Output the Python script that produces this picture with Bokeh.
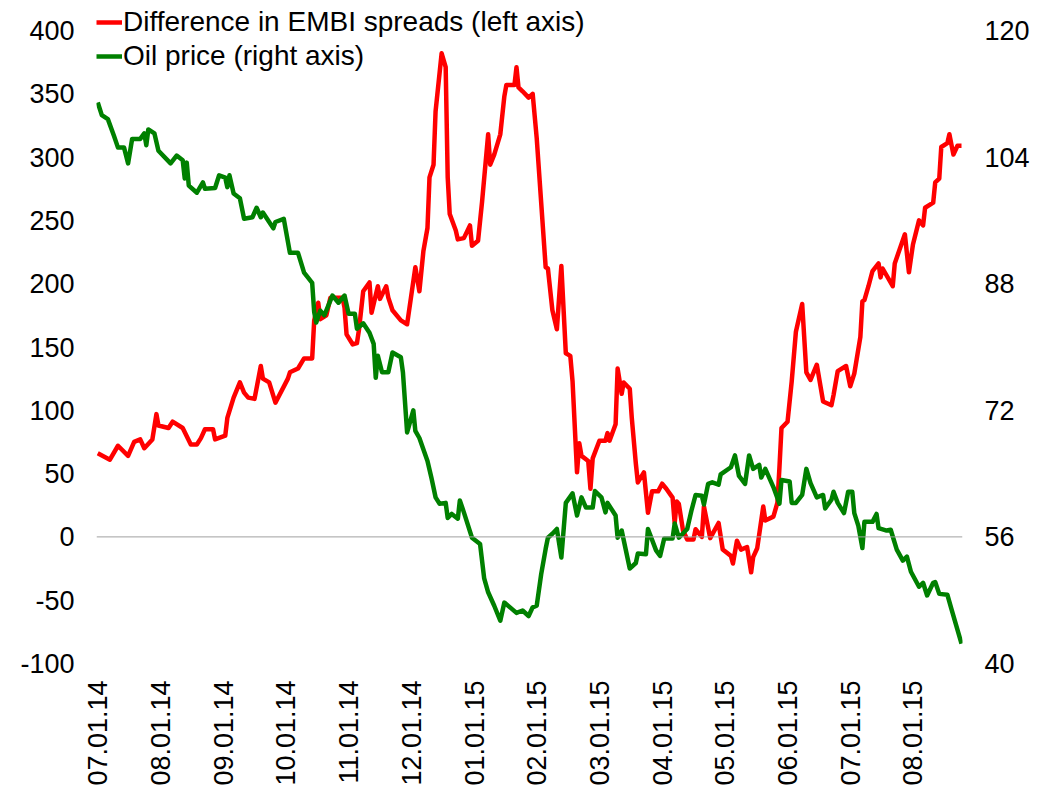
import calendar
from math import pi

from bokeh.plotting import figure
from bokeh.models import (Range1d, LinearAxis, FixedTicker, Span, Legend,
                          LegendItem, ColumnDataSource)
from bokeh.embed import file_html
from bokeh.resources import INLINE

# ---------------- data ----------------
tick_labels = ["07.01.14", "08.01.14", "09.01.14", "10.01.14", "11.01.14",
               "12.01.14", "01.01.15", "02.01.15", "03.01.15", "04.01.15",
               "05.01.15", "06.01.15", "07.01.15", "08.01.15"]

embi_dates = [
    "2014-07-01", "2014-07-07", "2014-07-11", "2014-07-16", "2014-07-19", "2014-07-22",
    "2014-07-24", "2014-07-28", "2014-07-30", "2014-07-31", "2014-08-05", "2014-08-07",
    "2014-08-12", "2014-08-16", "2014-08-19", "2014-08-21", "2014-08-23", "2014-08-27",
    "2014-08-28", "2014-09-02", "2014-09-03", "2014-09-06", "2014-09-09", "2014-09-11",
    "2014-09-13", "2014-09-16", "2014-09-19", "2014-09-20", "2014-09-23", "2014-09-26",
    "2014-10-02", "2014-10-03", "2014-10-07", "2014-10-10", "2014-10-14", "2014-10-15",
    "2014-10-17", "2014-10-18", "2014-10-21", "2014-10-23", "2014-10-29", "2014-10-30",
    "2014-10-31", "2014-11-03", "2014-11-05", "2014-11-06", "2014-11-08", "2014-11-11",
    "2014-11-12", "2014-11-15", "2014-11-16", "2014-11-19", "2014-11-20", "2014-11-22",
    "2014-11-26", "2014-11-29", "2014-12-03", "2014-12-05", "2014-12-07", "2014-12-09",
    "2014-12-10", "2014-12-12", "2014-12-13", "2014-12-16", "2014-12-18", "2014-12-19",
    "2014-12-20", "2014-12-23", "2014-12-24", "2014-12-27", "2014-12-30", "2014-12-31",
    "2015-01-03", "2015-01-05", "2015-01-08", "2015-01-09", "2015-01-11", "2015-01-14",
    "2015-01-16", "2015-01-17", "2015-01-21", "2015-01-22", "2015-01-23", "2015-01-25",
    "2015-01-28", "2015-01-30", "2015-02-01", "2015-02-05", "2015-02-06", "2015-02-08",
    "2015-02-10", "2015-02-12", "2015-02-14", "2015-02-16", "2015-02-17", "2015-02-19",
    "2015-02-20", "2015-02-21", "2015-02-24", "2015-02-25", "2015-02-26", "2015-03-01",
    "2015-03-04", "2015-03-05", "2015-03-06", "2015-03-09", "2015-03-10", "2015-03-12",
    "2015-03-13", "2015-03-16", "2015-03-17", "2015-03-19", "2015-03-20", "2015-03-23",
    "2015-03-25", "2015-03-27", "2015-03-30", "2015-04-01", "2015-04-03", "2015-04-06",
    "2015-04-07", "2015-04-08", "2015-04-09", "2015-04-11", "2015-04-13", "2015-04-16",
    "2015-04-17", "2015-04-20", "2015-04-21", "2015-04-24", "2015-04-28", "2015-04-30",
    "2015-05-04", "2015-05-05", "2015-05-07", "2015-05-09", "2015-05-12", "2015-05-14",
    "2015-05-15", "2015-05-17", "2015-05-20", "2015-05-21", "2015-05-25", "2015-05-27",
    "2015-05-28", "2015-05-29", "2015-06-01", "2015-06-03", "2015-06-05", "2015-06-08",
    "2015-06-10", "2015-06-12", "2015-06-15", "2015-06-18", "2015-06-22", "2015-06-23",
    "2015-06-25", "2015-06-29", "2015-07-01", "2015-07-03", "2015-07-06", "2015-07-07",
    "2015-07-08", "2015-07-10", "2015-07-12", "2015-07-15", "2015-07-16", "2015-07-17",
    "2015-07-22", "2015-07-23", "2015-07-28", "2015-07-30", "2015-08-01", "2015-08-04",
    "2015-08-06", "2015-08-07", "2015-08-11", "2015-08-12", "2015-08-14", "2015-08-15",
    "2015-08-18", "2015-08-19", "2015-08-21", "2015-08-23", "2015-08-25"]
embi_values = [
    66, 61, 72, 64, 75, 77, 70, 77, 97, 88, 86, 91,
    86, 73, 73, 78, 85, 85, 77, 80, 94, 110, 122, 114,
    110, 109, 135, 125, 122, 106, 125, 130, 133, 141, 141, 171,
    185, 172, 175, 189, 189, 181, 160, 152, 153, 164, 194, 201,
    177, 198, 188, 198, 189, 179, 171, 168, 213, 194, 226, 244,
    284, 294, 336, 382, 371, 284, 255, 242, 235, 236, 246, 230,
    234, 265, 318, 294, 302, 318, 348, 357, 357, 371, 355, 352,
    347, 350, 315, 213, 212, 179, 164, 214, 145, 143, 123, 51,
    74, 64, 60, 38, 62, 76, 76, 82, 76, 89, 133, 113,
    122, 117, 94, 58, 43, 51, 19, 36, 36, 42, 38, 31,
    11, 28, 26, 5, -2, -2, 6, 0, 24, -1, 11, -10,
    -15, -21, -3, -10, -8, -28, -16, -9, 24, 13, 16, 27,
    55, 86, 91, 123, 162, 184, 130, 124, 136, 107, 104, 112,
    131, 135, 119, 129, 158, 186, 187, 198, 210, 216, 205, 212,
    198, 216, 239, 209, 231, 250, 246, 260, 264, 280, 283, 308,
    311, 318, 302, 309, 309]

oil_dates = [
    "2014-07-01", "2014-07-03", "2014-07-06", "2014-07-09", "2014-07-11", "2014-07-14",
    "2014-07-16", "2014-07-18", "2014-07-22", "2014-07-24", "2014-07-25", "2014-07-26",
    "2014-07-29", "2014-07-31", "2014-08-06", "2014-08-09", "2014-08-12", "2014-08-13",
    "2014-08-14", "2014-08-15", "2014-08-19", "2014-08-22", "2014-08-23", "2014-08-28",
    "2014-08-30", "2014-09-02", "2014-09-03", "2014-09-04", "2014-09-06", "2014-09-09",
    "2014-09-11", "2014-09-15", "2014-09-17", "2014-09-19", "2014-09-20", "2014-09-25",
    "2014-09-26", "2014-09-30", "2014-10-03", "2014-10-07", "2014-10-10", "2014-10-14",
    "2014-10-15", "2014-10-16", "2014-10-18", "2014-10-20", "2014-10-24", "2014-10-27",
    "2014-10-30", "2014-11-01", "2014-11-04", "2014-11-05", "2014-11-08", "2014-11-11",
    "2014-11-13", "2014-11-14", "2014-11-15", "2014-11-17", "2014-11-20", "2014-11-22",
    "2014-11-26", "2014-11-27", "2014-11-29", "2014-12-02", "2014-12-03", "2014-12-05",
    "2014-12-09", "2014-12-11", "2014-12-13", "2014-12-15", "2014-12-18", "2014-12-19",
    "2014-12-21", "2014-12-24", "2014-12-25", "2014-12-27", "2014-12-31", "2015-01-04",
    "2015-01-06", "2015-01-08", "2015-01-11", "2015-01-14", "2015-01-16", "2015-01-22",
    "2015-01-25", "2015-01-28", "2015-01-30", "2015-02-01", "2015-02-03", "2015-02-05",
    "2015-02-06", "2015-02-08", "2015-02-10", "2015-02-12", "2015-02-14", "2015-02-17",
    "2015-02-19", "2015-02-21", "2015-02-23", "2015-02-26", "2015-02-27", "2015-03-02",
    "2015-03-04", "2015-03-05", "2015-03-09", "2015-03-10", "2015-03-12", "2015-03-16",
    "2015-03-19", "2015-03-20", "2015-03-24", "2015-03-25", "2015-03-29", "2015-03-31",
    "2015-04-02", "2015-04-06", "2015-04-07", "2015-04-09", "2015-04-13", "2015-04-15",
    "2015-04-17", "2015-04-20", "2015-04-21", "2015-04-23", "2015-04-25", "2015-04-28",
    "2015-04-29", "2015-05-04", "2015-05-06", "2015-05-08", "2015-05-11", "2015-05-13",
    "2015-05-15", "2015-05-18", "2015-05-19", "2015-05-21", "2015-05-25", "2015-05-28",
    "2015-05-29", "2015-06-02", "2015-06-03", "2015-06-05", "2015-06-08", "2015-06-10",
    "2015-06-12", "2015-06-15", "2015-06-18", "2015-06-19", "2015-06-22", "2015-06-23",
    "2015-06-25", "2015-06-28", "2015-06-30", "2015-07-02", "2015-07-03", "2015-07-05",
    "2015-07-07", "2015-07-08", "2015-07-12", "2015-07-14", "2015-07-15", "2015-07-19",
    "2015-07-21", "2015-07-24", "2015-07-27", "2015-07-29", "2015-07-31", "2015-08-04",
    "2015-08-06", "2015-08-08", "2015-08-11", "2015-08-12", "2015-08-14", "2015-08-18",
    "2015-08-20", "2015-08-25"]
oil_values = [
    110.9, 109.3, 108.8, 106.7, 105.2, 105.2, 103.2, 106.3, 106.3, 107.0, 105.5, 107.5,
    107.0, 104.8, 103.2, 104.2, 103.6, 101.3, 103.3, 100.4, 99.5, 100.8, 100.0, 100.1,
    101.7, 101.4, 100.2, 101.7, 99.4, 98.8, 96.2, 96.4, 97.6, 96.4, 97.0, 95.0,
    95.8, 96.2, 91.9, 91.9, 89.4, 88.1, 84.4, 83.1, 84.6, 84.0, 86.5, 85.6,
    86.5, 84.2, 84.2, 82.3, 83.0, 81.8, 80.4, 76.1, 78.9, 76.8, 76.8, 79.3,
    78.7, 76.8, 69.2, 72.0, 69.4, 68.5, 65.6, 63.4, 61.0, 60.2, 60.3, 58.4,
    58.9, 58.3, 60.6, 59.1, 55.9, 55.1, 50.8, 49.0, 47.3, 45.4, 47.7, 46.4,
    46.7, 46.0, 47.1, 47.3, 51.3, 54.5, 55.9, 56.4, 57.0, 53.4, 60.3, 61.5,
    58.7, 61.0, 59.7, 59.7, 61.8, 61.0, 59.1, 60.3, 58.7, 55.9, 56.8, 52.0,
    52.7, 53.9, 53.8, 57.0, 54.3, 53.6, 55.8, 55.8, 57.7, 55.9, 57.0, 59.3,
    61.3, 61.2, 60.1, 62.7, 62.9, 62.6, 63.9, 64.8, 66.3, 63.7, 62.7, 66.3,
    64.6, 65.1, 63.5, 64.6, 62.3, 60.2, 63.2, 63.0, 60.3, 60.3, 61.3, 64.6,
    62.8, 61.0, 61.3, 59.6, 60.7, 61.7, 60.3, 59.0, 61.7, 61.7, 59.0, 57.4,
    54.6, 57.9, 57.9, 58.9, 57.1, 56.8, 56.9, 54.4, 53.0, 53.5, 51.6, 49.7,
    50.2, 48.6, 50.2, 50.3, 48.8, 48.7, 46.9, 42.5]

left_ticks = [-100, -50, 0, 50, 100, 150, 200, 250, 300, 350, 400]
right_ticks = [40, 56, 72, 88, 104, 120]


def month_pos(d):
    """Position on an axis where every month has the same width (month 0 = Jul 2014)."""
    y, m, day = (int(v) for v in d.split("-"))
    idx = (y - 2014) * 12 + (m - 7)
    return idx + (day - 1) / calendar.monthrange(y, m)[1]


embi_src = ColumnDataSource(dict(x=[month_pos(d) for d in embi_dates], y=embi_values))
oil_src = ColumnDataSource(dict(x=[month_pos(d) for d in oil_dates], y=oil_values))

FONT = "Liberation Sans"

# the frame reaches the top of the canvas so that the legend above "400" is not clipped;
# the value axes keep 400 / 120 at the same height as in the reference
LEFT_TOP = 400 + 30 * 500 / 633
RIGHT_TOP = 120 + 30 * 80 / 633

p = figure(width=1048, height=790, output_backend="svg", toolbar_location=None,
           x_range=Range1d(-0.02, 13.79), y_range=Range1d(-100, LEFT_TOP),
           min_border_left=96, min_border_right=86, min_border_top=0,
           min_border_bottom=127, x_axis_location=None, y_axis_location=None)
p.outline_line_color = None
p.grid.visible = False
p.background_fill_color = "white"
p.border_fill_color = "white"
p.extra_y_ranges = {"oil": Range1d(40, RIGHT_TOP)}


def style_axis(ax, standoff):
    ax.axis_line_color = None
    ax.major_tick_line_color = None
    ax.minor_tick_line_color = None
    ax.major_tick_out = 0
    ax.major_tick_in = 0
    ax.minor_tick_out = 0
    ax.major_label_standoff = standoff
    ax.major_label_text_font = FONT
    ax.major_label_text_font_size = "27px"
    ax.major_label_text_color = "black"


left = LinearAxis(ticker=FixedTicker(ticks=left_ticks),
                  major_label_overrides={t: str(t) for t in left_ticks})
style_axis(left, 22)
p.add_layout(left, "left")

right = LinearAxis(y_range_name="oil", ticker=FixedTicker(ticks=right_ticks),
                   major_label_overrides={t: str(t) for t in right_ticks})
style_axis(right, 22)
p.add_layout(right, "right")

bottom = LinearAxis(ticker=FixedTicker(ticks=list(range(len(tick_labels)))),
                    major_label_overrides={i: t for i, t in enumerate(tick_labels)})
style_axis(bottom, 17)
bottom.major_label_orientation = pi / 2
p.add_layout(bottom, "below")

p.add_layout(Span(location=0, dimension="width", line_color="#a0a0a0", line_width=1))

r_embi = p.line("x", "y", source=embi_src, line_color="#ff0000", line_width=4.5,
                line_join="round")
r_oil = p.line("x", "y", source=oil_src, line_color="#008000", line_width=4.5,
               line_join="round", y_range_name="oil")

legend = Legend(items=[
    LegendItem(label="Difference in EMBI spreads (left axis)", renderers=[r_embi]),
    LegendItem(label="Oil price (right axis)", renderers=[r_oil]),
], location=(0, 591))
legend.padding = 0
legend.margin = 0
legend.spacing = 2
legend.label_height = 18
legend.glyph_height = 18
legend.glyph_width = 26
legend.label_standoff = 1
legend.border_line_color = None
legend.background_fill_alpha = 0
legend.label_text_font = FONT
legend.label_text_font_size = "28px"
legend.label_text_color = "black"
p.add_layout(legend, "center")

open("out.html", "w").write(file_html(p, INLINE))
